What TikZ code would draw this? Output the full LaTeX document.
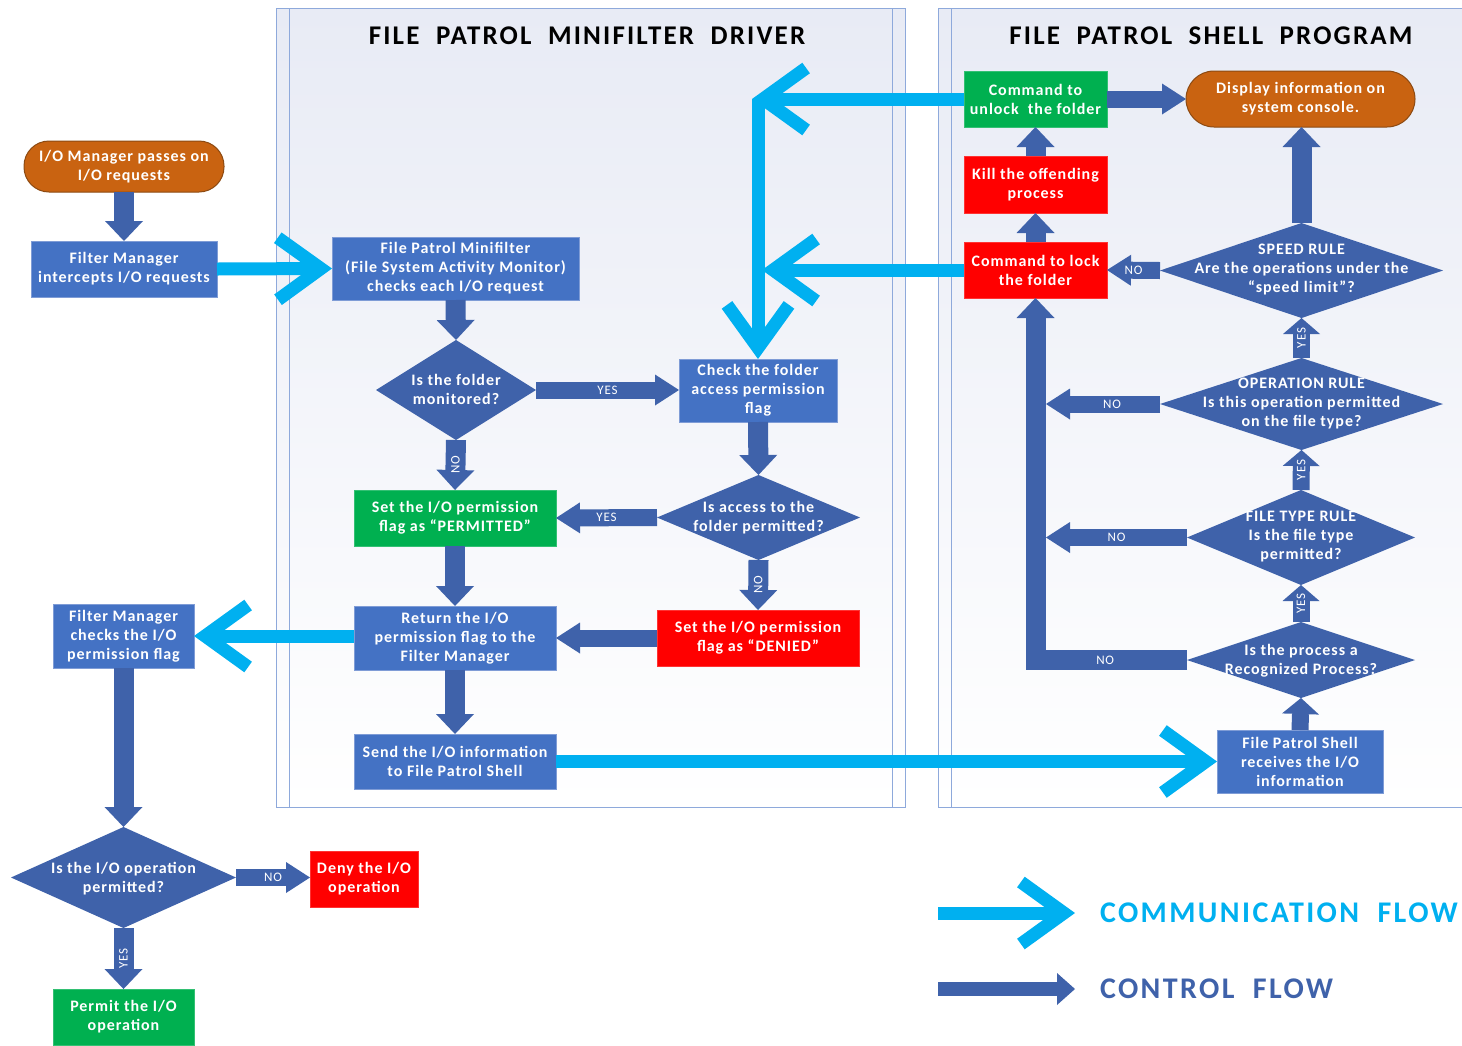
\documentclass[tikz,border=0pt]{standalone}
\usepackage{fontspec}
\setmainfont{Carlito}
\newfontfamily\spaced{Carlito}[LetterSpace=6]
\newfontfamily\wide{Carlito}[LetterSpace=8]
\usetikzlibrary{arrows.meta,shapes.geometric,calc}

\definecolor{ctrl}{HTML}{3F62AA}
\definecolor{boxblue}{HTML}{4472C4}
\definecolor{boxedge}{HTML}{7F9CD6}
\definecolor{okgreen}{HTML}{00B050}
\definecolor{stopred}{HTML}{FF0000}
\definecolor{termc}{HTML}{C96311}
\definecolor{termedge}{HTML}{8C4A12}
\definecolor{commc}{HTML}{00B0F0}
\definecolor{panelline}{HTML}{8EA9DB}
\definecolor{paneltop}{HTML}{E8EBF5}

\begin{document}
\begin{tikzpicture}[x=1pt,y=-1pt,
  every node/.style={inner sep=0pt,outer sep=0pt},
  txt/.style={text=white,align=center,font=\spaced\bfseries\fontsize{16}{19}\selectfont},
  proc/.style={txt,rectangle,fill=boxblue,draw=boxedge,line width=1pt},
  okbox/.style={proc,fill=okgreen,draw=okgreen!80!white},
  badbox/.style={proc,fill=stopred,draw=stopred!80!white},
  term/.style={txt,rectangle,rounded corners=25pt,fill=termc,draw=termedge,line width=1pt},
  dia/.style={diamond,fill=ctrl,draw=none},
  title/.style={text=black,font=\wide\bfseries\fontsize{27}{30}\selectfont},
  lab/.style={text=white,font=\spaced\fontsize{13}{13}\selectfont},
  ctl/.style={draw=ctrl,line width=20pt,-{Triangle[length=20pt,width=38pt,line width=0pt]}},
  ctlthin/.style={draw=ctrl,line width=17pt,-{Triangle[length=24pt,width=31pt,line width=0pt]}},
  ctlup/.style={draw=ctrl,line width=17pt,-{Triangle[length=16pt,width=37pt,line width=0pt]}},
  commarrow/.style={draw=commc,line width=13pt,-{Straight Barb[sharp,length=43pt,width=62pt]}},
  panel/.style={draw=panelline,line width=1pt},
  legendtext/.style={anchor=west,font=\wide\bfseries\fontsize{30}{32}\selectfont},
]
\useasboundingbox (0,0) rectangle (1462,1045);
\fill[white] (0,0) rectangle (1462,1045);

% swim-lane panels
\shade[top color=paneltop,bottom color=white] (276,8) rectangle (905,807);
\draw[panel] (276,8) rectangle (905,807);
\draw[panel] (289,8) -- (289,807);
\draw[panel] (892,8) -- (892,807);
\shade[top color=paneltop,bottom color=white] (938,8) rectangle (1470,807);
\draw[panel] (1470,8) -- (938,8) -- (938,807) -- (1470,807);
\draw[panel] (951,8) -- (951,807);

\node[title] (t1) at (587,36) {FILE~ PATROL~ MINIFILTER~ DRIVER};
\node[title] (t2) at (1211,36) {FILE~ PATROL~ SHELL~ PROGRAM};

% left column (I/O manager / filter manager)
\node[term,minimum width=200,minimum height=51] (iomgr) at (124,166.5) {I/O Manager passes on\\I/O requests};
\node[proc,minimum width=186,minimum height=56] (fmint) at (124,269) {Filter Manager\\intercepts I/O requests};
\node[proc,minimum width=141,minimum height=64] (fmchk) at (123.5,636) {Filter Manager\\checks the I/O\\permission flag};
\node[dia,minimum width=225,minimum height=101] (iodiam) at (123.5,877.5) {};
\node[txt] (iodiamt) at (123.5,878.5) {Is the I/O operation\\permitted?};
\node[badbox,minimum width=108,minimum height=56] (deny) at (364,879) {Deny the I/O\\operation};
\node[okbox,minimum width=141,minimum height=56] (permit) at (123.5,1017) {Permit the I/O\\operation};

% minifilter driver
\node[proc,minimum width=247,minimum height=63] (fpm) at (455.5,268.5) {File Patrol Minifilter\\(File System Activity Monitor)\\checks each I/O request};
\node[dia,minimum width=160,minimum height=100] (mon) at (456,390) {};
\node[txt] (mont) at (456,389.5) {Is the folder\\monitored?};
\node[proc,minimum width=158,minimum height=63] (check) at (758,390.5) {Check the folder\\access permission\\flag};
\node[okbox,minimum width=202,minimum height=56] (perm) at (455,518) {Set the I/O permission\\flag as “PERMITTED”};
\node[dia,minimum width=203,minimum height=85] (acc) at (758.5,517.5) {};
\node[txt] (acct) at (758.5,517.5) {Is access to the\\folder permitted?};
\node[badbox,minimum width=202,minimum height=56] (denied) at (758,638) {Set the I/O permission\\flag as “DENIED”};
\node[proc,minimum width=202,minimum height=64] (ret) at (455,638) {Return the I/O\\permission flag to the\\Filter Manager};
\node[proc,minimum width=202,minimum height=55] (send) at (455,761.5) {Send the I/O information\\to File Patrol Shell};

% shell program
\node[okbox,minimum width=143,minimum height=56] (unlock) at (1035.5,99) {Command to\\unlock~ the folder};
\node[term,rounded corners=28pt,minimum width=229,minimum height=56] (display) at (1300.5,99) {Display information on\\system console.};
\node[badbox,minimum width=143,minimum height=57] (kill) at (1035.5,184.5) {Kill the offending\\process};
\node[badbox,minimum width=143,minimum height=56] (lock) at (1035.5,270) {Command to lock\\the folder};
\node[dia,minimum width=283,minimum height=95] (speed) at (1301.5,270.5) {};
\node[txt] (speedt) at (1301.5,270) {SPEED RULE\\Are the operations under the\\“speed limit”?};
\node[dia,minimum width=283,minimum height=92] (oper) at (1301.5,404) {};
\node[txt] (opert) at (1301.5,403.5) {OPERATION RULE\\Is this operation permitted\\on the file type?};
\node[dia,minimum width=228,minimum height=95] (ftype) at (1301,537.5) {};
\node[txt] (ftypet) at (1301,537) {FILE TYPE RULE\\Is the file type\\permitted?};
\node[dia,minimum width=228,minimum height=76] (recog) at (1301,660) {};
\node[txt] (recogt) at (1301,660.5) {Is the process a\\Recognized Process?};
\node[proc,minimum width=166,minimum height=63] (recv) at (1300,761.5) {File Patrol Shell\\receives the I/O\\information};

% free ends of connectors
\coordinate (uL) at (752,99);
\coordinate (uD) at (758,99);
\coordinate (lkL) at (762,270);
\coordinate (operNo) at (1046,404);
\coordinate (ftypeNo) at (1046,537.5);
\coordinate (bend) at (1035.5,660);

% control flow
\draw[ctl] (iomgr.south) -- (fmint.north);
\draw[ctl] (fpm.south) -- (mon.north);
\draw[ctlthin] (mon.east) -- node[lab]{YES} (check.west |- mon.east);
\draw[ctl] (mon.south) -- node[lab,rotate=90]{NO} (perm.north);
\draw[ctl] (check.south) -- (acc.north);
\draw[ctlthin] (acc.west) -- node[lab]{YES} (perm.east);
\draw[ctl] (acc.south) -- node[lab,rotate=90]{NO} (denied.north);
\draw[ctl] (perm.south) -- (ret.north);
\draw[ctlthin] (denied.west) -- (ret.east);
\draw[ctl] (ret.south) -- (send.north);
\draw[ctl] (fmchk.south) -- (iodiam.north);
\draw[ctlthin] (iodiam.east) -- node[lab]{NO} (deny.west |- iodiam.east);
\draw[ctl] (iodiam.south) -- node[lab,rotate=90]{YES} (permit.north);

\draw[ctlthin] (unlock.east) -- (display.west);
\draw[ctl] (kill.north) -- (unlock.south);
\draw[ctl] (lock.north) -- (kill.south);
\draw[ctl] (speed.north) -- (speed.north |- display.south);
\draw[ctlthin] (speed.west) -- node[lab]{NO} (lock.east);
\draw[ctlup] (oper.north) -- node[lab,rotate=90]{YES} (speed.south);
\draw[ctlthin] (oper.west) -- node[lab,pos=0.42]{NO} (operNo);
\draw[ctlup] (ftype.north) -- node[lab,rotate=90]{YES} (oper.south);
\draw[ctlthin] (ftype.west) -- node[lab]{NO} (ftypeNo);
\draw[ctlup] (recog.north) -- node[lab,rotate=90]{YES} (ftype.south);
\draw[ctl,line join=miter] (recog.west) -- node[lab,pos=0.54]{NO} (bend) -- (lock.south);
\draw[ctlup] (recv.north) -- (recog.south);

% communication flow
\draw[commarrow] (fmint.east) -- (fpm.west);
\draw[commarrow] (unlock.west) -- (uL);
\draw[commarrow] (uD) -- (check.north);
\draw[commarrow] (lock.west) -- (lkL);
\draw[commarrow] (fmchk.east -| ret.west) -- (fmchk.east);
\draw[commarrow] (send.east) -- (recv.west);

% legend
\coordinate (lgA1) at (938,913);
\coordinate (lgA2) at (1075,913);
\coordinate (lgB1) at (938,989);
\coordinate (lgB2) at (1075,989);
\draw[commarrow] (lgA1) -- (lgA2);
\draw[draw=ctrl,line width=14pt,-{Triangle[length=18pt,width=32pt,line width=0pt]}] (lgB1) -- (lgB2);
\node[legendtext,text=commc] (lgAt) at (1100,913) {COMMUNICATION~ FLOW};
\node[legendtext,text=ctrl] (lgBt) at (1100,989) {CONTROL~ FLOW};
\end{tikzpicture}
\end{document}
